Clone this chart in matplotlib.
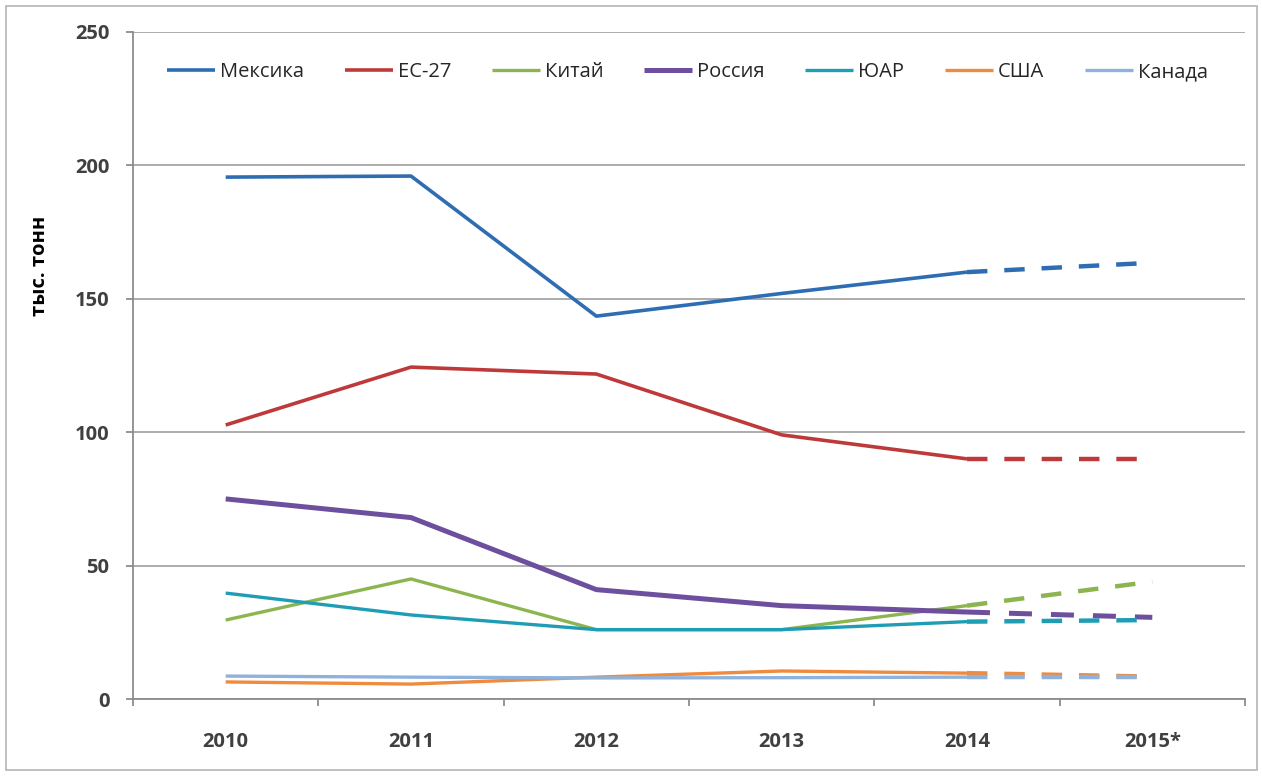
"""Производство (тыс. тонн) по странам, 2010–2015*."""

import matplotlib.pyplot as plt
from matplotlib.patches import Rectangle
import numpy as np

YEARS = ["2010", "2011", "2012", "2013", "2014", "2015*"]
SERIES = ["Мексика", "ЕС-27", "Китай", "Россия", "ЮАР", "США", "Канада"]

MEXICO = [195.6, 196.0, 143.5, 152.0, 160.0, 163.5]
EU27 = [102.7, 124.4, 121.8, 99.0, 90.0, 90.0]
CHINA = [29.6, 45.0, 26.0, 26.0, 35.0, 44.0]
RUSSIA = [75.0, 68.0, 41.0, 35.0, 32.6, 30.6]
SOUTH_AFRICA = [39.7, 31.5, 26.0, 26.0, 29.0, 29.6]
USA = [6.4, 5.6, 8.2, 10.5, 9.7, 8.4]
CANADA = [8.6, 8.2, 7.9, 8.0, 8.2, 8.2]

COLORS = ["#2f6db3", "#be3a3a", "#8cb54f", "#6e4f9e", "#1f9db5", "#f08a3c", "#8fb2dd"]
WIDTHS = [2.6, 2.6, 2.4, 3.6, 2.4, 2.4, 2.4]

plt.rcParams["font.family"] = ["Open Sans", "DejaVu Sans"]

fig = plt.figure(figsize=(12.62, 7.76), dpi=100)
fig.patch.set_facecolor("white")
fig.patches.append(Rectangle((0.005, 0.008), 0.991, 0.984, transform=fig.transFigure,
                             fill=False, edgecolor="#b5b5b5", linewidth=1.2))

ax = fig.add_axes([0.1054, 0.0992, 0.8811, 0.8596])
x = np.arange(len(YEARS))
values = [MEXICO, EU27, CHINA, RUSSIA, SOUTH_AFRICA, USA, CANADA]

for i, (name, vals, color, lw) in enumerate(zip(SERIES, values, COLORS, WIDTHS)):
    vals = np.asarray(vals)
    ax.plot(x[:5], vals[:5], color=color, linewidth=lw, label=name,
            solid_capstyle="butt", solid_joinstyle="round", zorder=3 + i)
    ax.plot(x[4:], vals[4:], color=color, linewidth=max(lw, 3.2),
            linestyle=(0, (4.6, 3.8)), dash_capstyle="butt", zorder=3 + i)

ax.set_xlim(-0.5, 5.5)
ax.set_ylim(0, 250)
ax.set_yticks(np.arange(0, 251, 50))
ax.grid(axis="y", color="#a6a6a6", linewidth=1.3)
ax.set_axisbelow(True)

ax.set_xticks(np.arange(-0.5, 6.0, 1.0))
ax.set_xticklabels([])
ax.set_xticks(x, minor=True)
ax.set_xticklabels(YEARS, minor=True)
ax.tick_params(axis="x", which="major", length=5, width=1.3, color="#8c8c8c")
ax.tick_params(axis="x", which="minor", length=0, pad=24, labelsize=14.5,
               labelcolor="#404040")
ax.tick_params(axis="y", length=5, width=1.3, color="#8c8c8c", pad=12,
               labelsize=14.5, labelcolor="#404040")
for lab in ax.get_xticklabels(minor=True) + ax.get_yticklabels():
    lab.set_fontweight("bold")

for side in ("top", "right"):
    ax.spines[side].set_visible(False)
for side in ("left", "bottom"):
    ax.spines[side].set_color("#8c8c8c")
    ax.spines[side].set_linewidth(1.3)

fig.text(0.032, 0.657, "тыс. тонн", rotation=90, ha="center", va="center",
         fontsize=14.5, fontweight="bold", color="black")

ax.legend(loc="center", bbox_to_anchor=(0.4987, 0.94), ncol=7, frameon=False,
          fontsize=14.5, handlelength=2.4, handletextpad=0.25, columnspacing=2.0,
          labelcolor="#262626")

fig.savefig("out.png", dpi=100, facecolor=fig.get_facecolor())
